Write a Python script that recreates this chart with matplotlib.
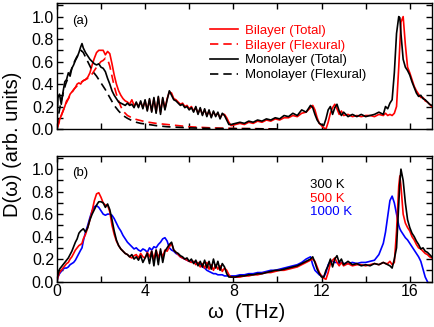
import matplotlib

matplotlib.use("Agg")
import matplotlib.pyplot as plt
from matplotlib.ticker import MultipleLocator, FuncFormatter

plt.rcParams["font.family"] = ["Liberation Sans", "DejaVu Sans"]

# frequency grid shared by the total-DOS curves (THz)
omega = [
    0, 0.05, 0.12, 0.2, 0.28, 0.36, 0.44, 0.52, 0.6, 0.68, 0.76, 0.84, 0.92, 1.0, 1.08, 1.14,
    1.2, 1.3, 1.4, 1.5, 1.6, 1.7, 1.8, 1.9, 2.0, 2.1,
    2.2, 2.3, 2.4, 2.5, 2.6, 2.7, 2.8, 2.9, 3.0, 3.1,
    3.2, 3.3, 3.4, 3.5, 3.6, 3.7, 3.8, 3.9, 4.0, 4.1,
    4.2, 4.3, 4.4, 4.5, 4.6, 4.7, 4.8, 4.9, 5.0, 5.1,
    5.2, 5.3, 5.4, 5.5, 5.6, 5.7, 5.8, 5.9, 6.0, 6.1,
    6.2, 6.3, 6.4, 6.5, 6.6, 6.7, 6.8, 6.9, 7.0, 7.1,
    7.2, 7.3, 7.4, 7.5, 7.6, 7.7, 7.8, 7.9,
    8.1, 8.3, 8.5, 8.7, 8.9, 9.1, 9.3, 9.5, 9.7, 9.9, 10.1, 10.3, 10.5, 10.7, 10.9, 11.1, 11.3, 11.5,
    11.6, 11.7, 11.8, 11.9, 12.0, 12.1, 12.2, 12.3, 12.4, 12.5, 12.6, 12.7, 12.8, 12.9, 13.0,
    13.2, 13.4, 13.6, 13.8, 14.0, 14.2, 14.4, 14.6, 14.8,
    14.9, 15.0, 15.1, 15.2, 15.3, 15.4, 15.5, 15.55, 15.6, 15.7,
    15.8, 15.9, 16.0, 16.1, 16.2, 16.3, 16.4, 16.5, 16.6, 16.7, 16.8, 16.9, 17.0,
]

# panel (a): monolayer / bilayer total DOS
mono_total = [
    0.02, 0.28, 0.31, 0.22, 0.33, 0.42, 0.44, 0.50, 0.47, 0.54, 0.57, 0.61, 0.64, 0.68, 0.73, 0.76,
    0.72, 0.68, 0.65, 0.62, 0.60, 0.58, 0.57, 0.58, 0.55, 0.54,
    0.51, 0.45, 0.40, 0.34, 0.30, 0.27, 0.24, 0.23, 0.22, 0.21,
    0.23, 0.21, 0.22, 0.19, 0.24, 0.19, 0.25, 0.18, 0.26, 0.16,
    0.27, 0.15, 0.28, 0.14, 0.29, 0.13, 0.28, 0.17, 0.26, 0.34,
    0.30, 0.26, 0.25, 0.23, 0.21, 0.22, 0.19, 0.20, 0.17, 0.19,
    0.15, 0.20, 0.13, 0.19, 0.12, 0.18, 0.11, 0.17, 0.10, 0.16,
    0.11, 0.15, 0.09, 0.14, 0.12, 0.08, 0.04, 0.04,
    0.05, 0.06, 0.05, 0.07, 0.06, 0.08, 0.07, 0.09, 0.08, 0.10, 0.09, 0.12, 0.11, 0.14, 0.12, 0.17, 0.15, 0.21,
    0.19, 0.13, 0.08, 0.05, 0.04, 0.03, 0.09, 0.17, 0.20, 0.13, 0.19, 0.22, 0.16, 0.12, 0.15,
    0.11, 0.13, 0.11, 0.13, 0.11, 0.12, 0.13, 0.15, 0.13,
    0.20, 0.18, 0.23, 0.26, 0.50, 0.85, 1.00, 0.99, 0.85, 0.62,
    0.55, 0.52, 0.48, 0.42, 0.37, 0.32, 0.29, 0.30, 0.27, 0.26, 0.24, 0.22, 0.21,
]
bi_total = [
    0.00, 0.03, 0.08, 0.12, 0.16, 0.20, 0.25, 0.27, 0.31, 0.33, 0.35, 0.37, 0.40, 0.41, 0.40, 0.42,
    0.43, 0.44, 0.46, 0.50, 0.57, 0.63, 0.68, 0.70, 0.70, 0.70,
    0.66, 0.69, 0.67, 0.58, 0.48, 0.40, 0.34, 0.30, 0.27, 0.25,
    0.24, 0.22, 0.26, 0.21, 0.23, 0.20, 0.24, 0.19, 0.25, 0.17,
    0.26, 0.16, 0.27, 0.15, 0.28, 0.15, 0.27, 0.18, 0.27, 0.33,
    0.32, 0.27, 0.26, 0.24, 0.22, 0.23, 0.20, 0.21, 0.18, 0.20,
    0.16, 0.19, 0.14, 0.18, 0.13, 0.17, 0.12, 0.16, 0.11, 0.15,
    0.12, 0.14, 0.10, 0.13, 0.13, 0.10, 0.06, 0.03,
    0.04, 0.05, 0.04, 0.06, 0.05, 0.07, 0.06, 0.08, 0.07, 0.09, 0.08, 0.10, 0.10, 0.12, 0.11, 0.14, 0.15, 0.19,
    0.21, 0.17, 0.10, 0.05, 0.03, 0.01, 0.00, 0.06, 0.14, 0.19, 0.22, 0.18, 0.13, 0.16, 0.12,
    0.13, 0.11, 0.12, 0.11, 0.12, 0.12, 0.11, 0.13, 0.12,
    0.14, 0.12, 0.13, 0.12, 0.14, 0.20, 0.55, 0.75, 0.95, 1.00,
    0.75, 0.55, 0.50, 0.44, 0.38, 0.34, 0.31, 0.28, 0.28, 0.25, 0.24, 0.22, 0.20,
]

# panel (a): flexural contributions
omega_flex_mono = [0, 0.1, 0.2, 0.3, 0.4, 0.5, 0.6, 0.7, 0.8, 0.9, 1.0, 1.1, 1.2, 1.3, 1.4, 1.5,
                   1.6, 1.8, 2.0, 2.2, 2.4, 2.6, 2.8, 3.0, 3.2, 3.4, 3.6, 3.8, 4.0, 4.5, 5.0,
                   5.5, 6.0, 7.0, 8.0, 9.0, 10.0]
mono_flex = [0.02, 0.15, 0.25, 0.33, 0.40, 0.45, 0.50, 0.55, 0.60, 0.64, 0.67, 0.70, 0.68, 0.64,
             0.60, 0.56, 0.52, 0.47, 0.41, 0.35, 0.28, 0.21, 0.16, 0.12, 0.095, 0.075, 0.06, 0.05,
             0.045, 0.03, 0.02, 0.015, 0.01, 0.005, 0.003, 0.002, 0.0]
omega_flex_bi = [0, 0.2, 0.4, 0.6, 0.8, 1.0, 1.2, 1.4, 1.6, 1.8, 2.0, 2.1, 2.2, 2.3, 2.4, 2.5,
                 2.6, 2.7, 2.8, 2.9, 3.0, 3.2, 3.4, 3.6, 3.8, 4.0, 4.5, 5.0, 5.5, 6.0, 6.5,
                 7.0, 8.0, 9.0, 10.0]
bi_flex = [0.0, 0.12, 0.22, 0.30, 0.36, 0.40, 0.43, 0.45, 0.49, 0.55, 0.60, 0.61, 0.63, 0.62,
           0.56, 0.47, 0.38, 0.31, 0.25, 0.20, 0.16, 0.12, 0.10, 0.085, 0.075, 0.065, 0.05,
           0.04, 0.03, 0.02, 0.015, 0.01, 0.005, 0.003, 0.0]

# panel (b): temperature dependence
dos_300K = [
    0.02, 0.06, 0.11, 0.13, 0.15, 0.17, 0.19, 0.21, 0.24, 0.27, 0.31, 0.35, 0.38, 0.43, 0.45, 0.46,
    0.47, 0.44, 0.48, 0.55, 0.60, 0.64, 0.68, 0.71, 0.71, 0.70,
    0.66, 0.69, 0.64, 0.55, 0.45, 0.37, 0.32, 0.29, 0.27, 0.25,
    0.24, 0.22, 0.24, 0.20, 0.22, 0.19, 0.23, 0.17, 0.21, 0.25,
    0.16, 0.27, 0.14, 0.28, 0.15, 0.29, 0.17, 0.27, 0.30, 0.33,
    0.35, 0.28, 0.26, 0.25, 0.23, 0.22, 0.20, 0.21, 0.18, 0.20,
    0.16, 0.19, 0.14, 0.18, 0.13, 0.19, 0.12, 0.18, 0.11, 0.20,
    0.12, 0.18, 0.10, 0.16, 0.13, 0.07, 0.04, 0.04,
    0.04, 0.05, 0.05, 0.06, 0.06, 0.07, 0.07, 0.08, 0.09, 0.10, 0.10, 0.11, 0.12, 0.13, 0.14, 0.16, 0.18, 0.20,
    0.22, 0.17, 0.11, 0.07, 0.04, 0.04, 0.10, 0.14, 0.20, 0.13, 0.20, 0.23, 0.17, 0.20, 0.15,
    0.18, 0.15, 0.16, 0.14, 0.15, 0.14, 0.16, 0.15, 0.17,
    0.16, 0.15, 0.14, 0.12, 0.20, 0.30, 0.70, 0.88, 1.00, 0.90,
    0.70, 0.55, 0.48, 0.43, 0.40, 0.36, 0.33, 0.29, 0.30, 0.27, 0.26, 0.24, 0.22,
]
dos_500K = [
    0.00, 0.04, 0.08, 0.10, 0.12, 0.14, 0.16, 0.17, 0.20, 0.22, 0.25, 0.28, 0.30, 0.32, 0.33, 0.34,
    0.38, 0.42, 0.48, 0.55, 0.63, 0.72, 0.78, 0.79, 0.75, 0.70,
    0.68, 0.68, 0.62, 0.50, 0.42, 0.36, 0.32, 0.29, 0.27, 0.25,
    0.24, 0.22, 0.21, 0.23, 0.24, 0.21, 0.25, 0.22, 0.21, 0.26,
    0.22, 0.27, 0.20, 0.28, 0.21, 0.27, 0.22, 0.28, 0.27, 0.31,
    0.34, 0.28, 0.26, 0.24, 0.22, 0.21, 0.20, 0.19, 0.18, 0.17,
    0.18, 0.15, 0.17, 0.13, 0.16, 0.12, 0.17, 0.11, 0.15, 0.10,
    0.15, 0.11, 0.14, 0.09, 0.12, 0.10, 0.06, 0.04,
    0.04, 0.04, 0.05, 0.05, 0.06, 0.06, 0.07, 0.08, 0.08, 0.09, 0.10, 0.10, 0.11, 0.12, 0.13, 0.15, 0.17, 0.19,
    0.20, 0.18, 0.13, 0.08, 0.05, 0.03, 0.02, 0.08, 0.16, 0.19, 0.21, 0.17, 0.14, 0.17, 0.14,
    0.16, 0.14, 0.15, 0.15, 0.14, 0.15, 0.16, 0.15, 0.17,
    0.16, 0.16, 0.18, 0.15, 0.17, 0.45, 0.85, 0.94, 0.85, 0.60,
    0.52, 0.48, 0.45, 0.40, 0.37, 0.33, 0.30, 0.29, 0.27, 0.25, 0.24, 0.22, 0.21,
]
dos_1000K = [
    0.00, 0.04, 0.07, 0.09, 0.11, 0.12, 0.12, 0.13, 0.15, 0.16, 0.17, 0.19, 0.22, 0.25, 0.28, 0.30,
    0.36, 0.44, 0.50, 0.57, 0.63, 0.665, 0.675, 0.66, 0.63, 0.60,
    0.59, 0.60, 0.60, 0.59, 0.56, 0.52, 0.48, 0.45, 0.41, 0.38,
    0.35, 0.33, 0.31, 0.29, 0.30, 0.28, 0.27, 0.29, 0.28, 0.26,
    0.30, 0.28, 0.31, 0.30, 0.33, 0.35, 0.38, 0.39, 0.36, 0.30,
    0.28, 0.27, 0.25, 0.24, 0.22, 0.21, 0.20, 0.19, 0.18, 0.18,
    0.17, 0.17, 0.16, 0.15, 0.13, 0.12, 0.10, 0.09, 0.08, 0.07,
    0.07, 0.06, 0.06, 0.06, 0.05, 0.05, 0.05, 0.05,
    0.05, 0.06, 0.06, 0.07, 0.07, 0.08, 0.08, 0.09, 0.10, 0.10, 0.11, 0.12, 0.13, 0.14, 0.15, 0.17, 0.20, 0.22,
    0.15, 0.10, 0.08, 0.06, 0.05, 0.04, 0.08, 0.15, 0.18, 0.18, 0.17, 0.17, 0.16, 0.17, 0.16,
    0.16, 0.17, 0.16, 0.17, 0.17, 0.18, 0.19, 0.24, 0.34,
    0.44, 0.58, 0.72, 0.76, 0.70, 0.60, 0.50, 0.47, 0.45, 0.42,
    0.39, 0.37, 0.34, 0.31, 0.28, 0.25, 0.22, 0.18, 0.11, 0.04, 0.0, -0.05, -0.10,
]

RED = "#ff0000"
BLUE = "#0000ff"
LW = 1.2

fig = plt.figure(figsize=(4.34, 3.27), dpi=100)
ax_a = fig.add_axes([0.131, 0.6055, 0.864, 0.385])
ax_b = fig.add_axes([0.131, 0.139, 0.864, 0.385])

ax_a.plot(omega, bi_total, color=RED, lw=LW, label="Bilayer (Total)")
ax_a.plot(omega_flex_bi, bi_flex, color=RED, lw=LW, ls=(0, (5, 3)), label="Bilayer (Flexural)")
ax_a.plot(omega, mono_total, color="black", lw=LW, label="Monolayer (Total)")
ax_a.plot(omega_flex_mono, mono_flex, color="black", lw=LW, ls=(0, (5, 3)),
          label="Monolayer (Flexural)")

ax_b.plot(omega, dos_1000K, color=BLUE, lw=LW)
ax_b.plot(omega, dos_500K, color=RED, lw=LW)
ax_b.plot(omega, dos_300K, color="black", lw=LW)


def _even_labels(step):
    def fmt(v, _pos):
        k = round(v / step)
        return "" if k % 2 else f"{v:g}" if step >= 1 else f"{v:.1f}"
    return fmt


for ax in (ax_a, ax_b):
    ax.set_xlim(0, 17)
    ax.set_ylim(0, 1.12)
    ax.xaxis.set_major_locator(MultipleLocator(2))
    ax.yaxis.set_major_locator(MultipleLocator(0.1))
    ax.xaxis.set_major_formatter(FuncFormatter(_even_labels(2)))
    ax.yaxis.set_major_formatter(FuncFormatter(_even_labels(0.1)))
    ax.tick_params(direction="in", top=True, right=True, length=4, width=1.0,
                   labelsize=11.5, pad=2)
    for sp in ax.spines.values():
        sp.set_linewidth(1.0)

ax_a.tick_params(labelbottom=False)

ax_a.text(0.04, 0.86, "(a)", transform=ax_a.transAxes, fontsize=9.5, va="center")
ax_b.text(0.04, 0.866, "(b)", transform=ax_b.transAxes, fontsize=9.5, va="center")

leg = ax_a.legend(loc="upper left", bbox_to_anchor=(0.408, 0.83), frameon=False, fontsize=9.5,
                  handlelength=2.1, handletextpad=0.6, labelspacing=0.2, borderpad=0,
                  borderaxespad=0, labelcolor="linecolor")

for label, col, y in (("300 K", "black", 0.763), ("500 K", RED, 0.652), ("1000 K", BLUE, 0.55)):
    ax_b.text(0.675, y, label, color=col, transform=ax_b.transAxes, fontsize=9.5, va="center")

fig.text(0.028, 0.56, "D(ω) (arb. units)", rotation=90, ha="center", va="center", fontsize=14.5)
fig.text(0.569, 0.045, "ω  (THz)", ha="center", va="center", fontsize=14.5)

fig.savefig("out.png", dpi=100)
